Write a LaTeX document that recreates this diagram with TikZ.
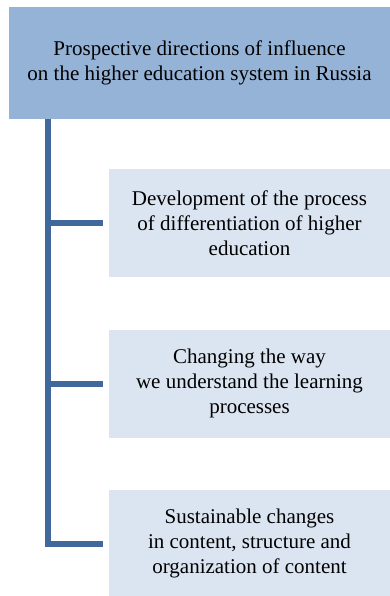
\documentclass[tikz,border=0pt]{standalone}
\usepackage{fontspec}
\setmainfont{Liberation Serif}

\definecolor{headfill}{HTML}{95B3D7}
\definecolor{itemfill}{HTML}{DBE5F1}
\definecolor{spinecol}{HTML}{41689B}

\tikzset{
  headbox/.style={fill=headfill, minimum width=381pt, minimum height=112pt,
    align=center, inner sep=0pt, font=\fontsize{21}{24.5}\selectfont},
  itembox/.style={fill=itemfill, minimum width=281pt, minimum height=108pt,
    align=center, inner sep=0pt, font=\fontsize{21}{25}\selectfont},
  link/.style={draw=spinecol, line width=6pt, line join=miter}
}

\begin{document}
\begin{tikzpicture}[x=1pt, y=-1pt]
  \useasboundingbox (0,0) rectangle (390,596);

  % Titulo
  \node[headbox] (head) at (199.5,63)
    {Prospective directions of influence\\on the higher education system in Russia};

  % Direcoes: nome / centro vertical / texto
  \foreach \n/\y/\t in {
    dir1/223/{Development of the process\\of differentiation of higher\\education},
    dir2/383.5/{Changing the way\\we understand the learning\\processes},
    dir3/543.5/{Sustainable changes\\in content, structure and\\organization of content}} {
    \node[itembox] (\n) at (249.5,\y) {\t};
  }

  % Espinha e ramos
  \coordinate (spine) at (head.south -| 48,0);
  \draw[link] (spine) |- ([xshift=-6pt]dir3.west);
  \draw[link] (spine |- dir1.west) -- ([xshift=-6pt]dir1.west);
  \draw[link] (spine |- dir2.west) -- ([xshift=-6pt]dir2.west);
\end{tikzpicture}
\end{document}
